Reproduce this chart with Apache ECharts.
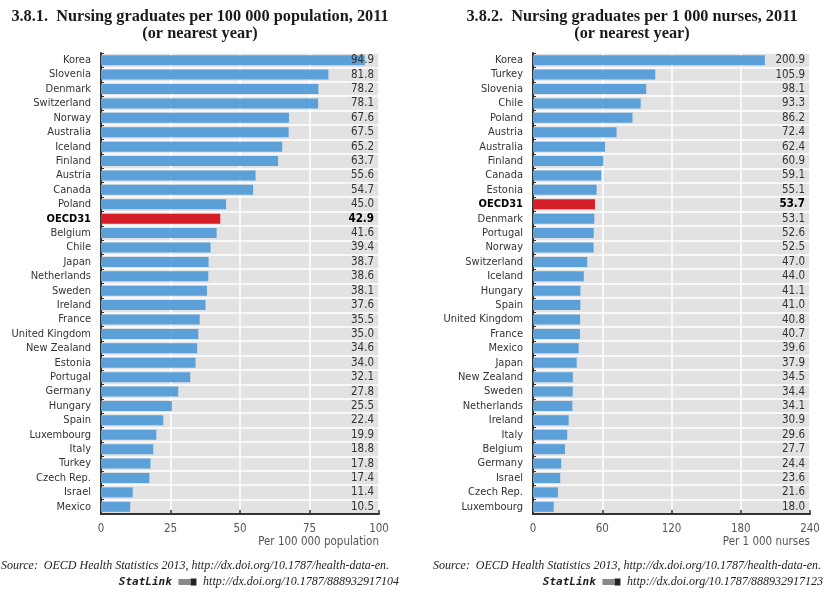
<!DOCTYPE html>
<html><head><meta charset="utf-8">
<script src="https://cdn.jsdelivr.net/npm/echarts@6/dist/echarts.min.js"></script>
<style>html,body{margin:0;padding:0;background:#fff}#c{width:837px;height:603px}</style>
</head><body><div id="c"></div>
<script>
// ---- data ----
const countries1 = ['Korea','Slovenia','Denmark','Switzerland','Norway','Australia','Iceland','Finland','Austria','Canada','Poland','OECD31','Belgium','Chile','Japan','Netherlands','Sweden','Ireland','France','United Kingdom','New Zealand','Estonia','Portugal','Germany','Hungary','Spain','Luxembourg','Italy','Turkey','Czech Rep.','Israel','Mexico'];
const values1 = [94.9,81.8,78.2,78.1,67.6,67.5,65.2,63.7,55.6,54.7,45.0,42.9,41.6,39.4,38.7,38.6,38.1,37.6,35.5,35.0,34.6,34.0,32.1,27.8,25.5,22.4,19.9,18.8,17.8,17.4,11.4,10.5];
const countries2 = ['Korea','Turkey','Slovenia','Chile','Poland','Austria','Australia','Finland','Canada','Estonia','OECD31','Denmark','Portugal','Norway','Switzerland','Iceland','Hungary','Spain','United Kingdom','France','Mexico','Japan','New Zealand','Sweden','Netherlands','Ireland','Italy','Belgium','Germany','Israel','Czech Rep.','Luxembourg'];
const values2 = [200.9,105.9,98.1,93.3,86.2,72.4,62.4,60.9,59.1,55.1,53.7,53.1,52.6,52.5,47.0,44.0,41.1,41.0,40.8,40.7,39.6,37.9,34.5,34.4,34.1,30.9,29.6,27.7,24.4,23.6,21.6,18.0];
const ticks1 = [0,25,50,75,100];
const ticks2 = [0,60,120,180,240];
const highlight = 'OECD31';
const title1 = '3.8.1.  Nursing graduates per 100 000 population, 2011\n(or nearest year)';
const title2 = '3.8.2.  Nursing graduates per 1 000 nurses, 2011\n(or nearest year)';
const axisName1 = 'Per 100 000 population';
const axisName2 = 'Per 1 000 nurses';
const source1 = 'http://dx.doi.org/10.1787/888932917104';
const source2 = 'http://dx.doi.org/10.1787/888932917123';
const sourceText = 'Source:  OECD Health Statistics 2013, http://dx.doi.org/10.1787/health-data-en.';

// ---- style ----
const NARROW = "'DejaVu Sans Condensed','Liberation Sans',sans-serif";
const SERIF = "'Liberation Serif','DejaVu Serif',serif";
const BLUE = '#5ba0d9', RED = '#d61e28', GRAY = '#e2e2e2', DARK = '#333';
const FS = 11;
const G = [{left:101, top:53, width:278, height:461}, {left:533, top:53, width:277, height:461}];

const chart = echarts.init(document.getElementById('c'), null, {renderer:'canvas'});

function makeAxes(i, cats, ticks, name) {
  const x = {
    type:'value', gridIndex:i, min:ticks[0], max:ticks[ticks.length-1], interval:ticks[1]-ticks[0],
    axisLine:{show:true, lineStyle:{color:DARK, width:2}},
    axisTick:{show:true, inside:true, length:4, lineStyle:{color:DARK, width:1.5}},
    axisLabel:{color:'#555', fontFamily:NARROW, fontSize:FS+0.5, margin:9},
    splitLine:{show:true, lineStyle:{color:'#fff', width:1.5}},
    name:name, nameLocation:'end', nameGap:0,
    nameTextStyle:{align:'right', verticalAlign:'top', padding:[22,0,0,0], color:'#555', fontFamily:NARROW, fontSize:FS+0.5}
  };
  const y = {
    type:'category', gridIndex:i, data:cats, inverse:true,
    axisLine:{show:true, lineStyle:{color:DARK, width:2}},
    axisTick:{show:true, inside:true, length:3, lineStyle:{color:DARK, width:1}},
    axisLabel:{interval:0, color:'#333', fontFamily:NARROW, fontSize:FS, margin:10,
      formatter:(v)=> v===highlight ? '{b|'+v+'}' : v,
      rich:{b:{fontWeight:'bold', color:'#000', fontFamily:NARROW, fontSize:FS}}},
    splitArea:{show:true, interval:0, areaStyle:{color:[GRAY]}},
    splitLine:{show:true, interval:0, lineStyle:{color:'#fff', width:1.5}}
  };
  return [x, y];
}

function makeSeries(i, cats, vals) {
  const g = G[i];
  return {
    type:'bar', xAxisIndex:i, yAxisIndex:i, barWidth:10, z:3,
    data: vals.map((v, k) => ({
      value:v,
      itemStyle:{color: cats[k]===highlight ? RED : BLUE},
      label: cats[k]===highlight ? {fontWeight:'bold', color:'#000'} : {}
    })),
    label:{show:true, position:'right', formatter:(p)=>p.value.toFixed(1),
      color:'#333', fontFamily:NARROW, fontSize:FS+0.5},
    labelLayout:(p)=>({x:g.left+g.width-5, y:p.rect.y+p.rect.height/2, align:'right', verticalAlign:'middle'})
  };
}

const a1 = makeAxes(0, countries1, ticks1, axisName1);
const a2 = makeAxes(1, countries2, ticks2, axisName2);

function titleEl(text, cx) {
  return {type:'text', x:cx, y:8, style:{text:text, textAlign:'center', textVerticalAlign:'top',
    font:'bold 16.3px ' + SERIF, lineHeight:17, fill:'#1a1a1a'}};
}
function sourceEls(leftX, rightX, link) {
  return [
    {type:'text', x:leftX, y:566, style:{text:sourceText, textAlign:'left', textVerticalAlign:'middle',
      font:'italic 12px ' + SERIF, fill:'#222'}},
    {type:'text', x:rightX, y:582, style:{text:'{s|StatLink}  {i| }{j| }  {u|' + link + '}', textAlign:'right', textVerticalAlign:'middle',
      rich:{
        s:{font:"bold italic 11px 'DejaVu Sans Mono',monospace", fill:'#222'},
        i:{width:12, height:6, backgroundColor:'#888'},
        j:{width:6, height:7, backgroundColor:'#222'},
        u:{font:'italic 12px ' + SERIF, fill:'#222'}
      }}}
  ];
}

chart.setOption({
  animation:false,
  grid:G.map(g=>Object.assign({containLabel:false}, g)),
  xAxis:[a1[0], a2[0]],
  yAxis:[a1[1], a2[1]],
  series:[makeSeries(0, countries1, values1), makeSeries(1, countries2, values2)],
  graphic:[titleEl(title1, 200), titleEl(title2, 632)]
    .concat(sourceEls(1, 399, source1), sourceEls(433, 823, source2))
});
</script>
</body></html>
